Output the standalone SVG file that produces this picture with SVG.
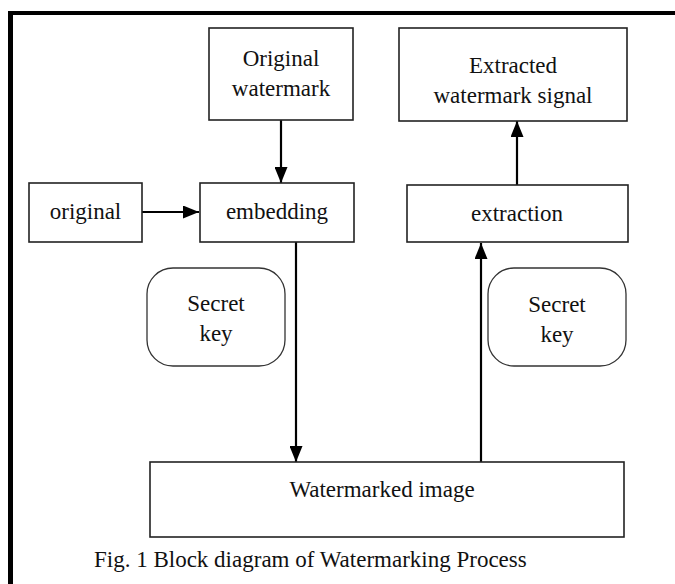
<svg xmlns="http://www.w3.org/2000/svg" width="675" height="584" viewBox="0 0 675 584">
<style>
.box{fill:#fff;stroke:#222;stroke-width:1.6}
.key{fill:#fff;stroke:#333;stroke-width:1.3}
.t{font-family:"Liberation Serif","Times New Roman",serif;font-size:23px;fill:#111;text-anchor:middle}
.cap{font-family:"Liberation Serif","Times New Roman",serif;font-size:23px;fill:#111}
.ln{stroke:#000;stroke-width:2.2;fill:none}
</style>
<defs>
<marker id="ah" markerWidth="16" markerHeight="13" refX="16" refY="6.5" orient="auto" markerUnits="userSpaceOnUse">
<path d="M0,0 L16,6.5 L0,13 Z" fill="#000"/>
</marker>
</defs>
<rect width="675" height="584" fill="#fff"/>
<g id="frame">
<line x1="8" y1="13" x2="675" y2="13" stroke="#000" stroke-width="4"/>
<line x1="10.5" y1="11" x2="10.5" y2="584" stroke="#000" stroke-width="5"/>
</g>
<g id="connectors">
<line class="ln" x1="142" y1="212" x2="199" y2="212" marker-end="url(#ah)"/>
<line class="ln" x1="281" y1="120" x2="281" y2="183" marker-end="url(#ah)"/>
<line class="ln" x1="296" y1="242" x2="296" y2="462" marker-end="url(#ah)"/>
<line class="ln" x1="481" y1="462" x2="481" y2="243" marker-end="url(#ah)"/>
<line class="ln" x1="517" y1="185" x2="517" y2="121" marker-end="url(#ah)"/>
</g>
<g id="original-watermark">
<rect class="box" x="209" y="28" width="144" height="92"/>
<text class="t" x="281" y="66">Original</text>
<text class="t" x="281" y="96">watermark</text>
</g>
<g id="extracted-signal">
<rect class="box" x="399" y="28" width="228" height="93"/>
<text class="t" x="513" y="73">Extracted</text>
<text class="t" x="513" y="103">watermark signal</text>
</g>
<g id="original">
<rect class="box" x="29" y="183" width="113" height="59"/>
<text class="t" x="85.5" y="219">original</text>
</g>
<g id="embedding">
<rect class="box" x="200" y="183" width="154" height="59"/>
<text class="t" x="277" y="219">embedding</text>
</g>
<g id="extraction">
<rect class="box" x="407" y="185" width="221" height="57"/>
<text class="t" x="517" y="221">extraction</text>
</g>
<g id="secret-key-1">
<rect class="key" x="147" y="268" width="138" height="98" rx="26" ry="26"/>
<text class="t" x="216" y="311">Secret</text>
<text class="t" x="216" y="341">key</text>
</g>
<g id="secret-key-2">
<rect class="key" x="488" y="268" width="138" height="98" rx="26" ry="26"/>
<text class="t" x="557" y="312">Secret</text>
<text class="t" x="557" y="342">key</text>
</g>
<g id="watermarked-image">
<rect class="box" x="150" y="462" width="474" height="75"/>
<text class="t" x="382" y="497">Watermarked image</text>
</g>
<text class="cap" x="94" y="567">Fig. 1 Block diagram of Watermarking Process</text>
</svg>
